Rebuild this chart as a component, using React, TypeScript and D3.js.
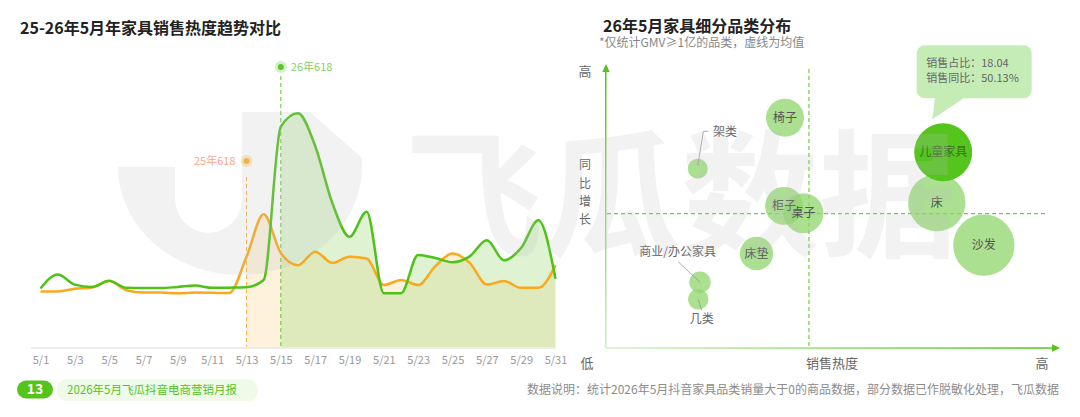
import { useEffect, useRef } from 'react';
import * as d3 from 'd3';

// 左圖：5月每日銷售熱度
const dayLabels = [
  '5/1', '5/2', '5/3', '5/4', '5/5', '5/6', '5/7', '5/8', '5/9', '5/10',
  '5/11', '5/12', '5/13', '5/14', '5/15', '5/16', '5/17', '5/18', '5/19', '5/20',
  '5/21', '5/22', '5/23', '5/24', '5/25', '5/26', '5/27', '5/28', '5/29', '5/30', '5/31',
];
const heat2026 = [
  25, 31, 26.7, 25.7, 28.4, 25.3, 25.2, 25.2, 25.7, 26.3,
  25.3, 25.4, 25.6, 28.7, 94.3, 100, 86, 61.6, 47.2, 57.9,
  23, 23, 39.4, 38.1, 36.3, 38.8, 45.7, 37.1, 42.4, 54.2, 29.2,
];
const heat2025 = [
  23.8, 23.8, 24.9, 25.5, 28.2, 24.3, 23.3, 23.3, 23, 23.3,
  23.2, 23.1, 38.6, 56.8, 40.2, 35, 40.8, 36, 38.6, 37.9,
  26.5, 28.7, 26.5, 34.6, 40, 36, 26.7, 28.2, 25.3, 25.3, 34.9,
];
const mark2026 = { day: '5/15', label: '26年618' };
const mark2025 = { day: '5/13', label: '25年618' };

// 右圖：品類分布
const categories = ['椅子', '架类', '儿童家具', '床', '柜子', '桌子', '床垫', '沙发', '商业/办公家具', '几类'];
const salesHeat = [39.6, 20.3, 74.6, 73.2, 39.4, 43.7, 33.3, 83.6, 20.8, 20.4];
const yoyGrowth = [67.1, 42.1, 50.13, 25.4, 23.8, 20.2, 0.4, 4.5, -13.7, -22.1];
const salesShare = [7.74, 2.14, 18.04, 17.66, 7.74, 8.57, 5.98, 20.2, 2.45, 2.27];
const avgHeat = 44.9;
const avgGrowth = 20;
const highlight = '儿童家具';

const FONT = '"Noto Sans CJK SC", "Noto Sans", sans-serif';

const App = () => {
  const svgRef = useRef<SVGSVGElement>(null);

  useEffect(() => {
    const svg = d3.select(svgRef.current);
    svg.selectAll('*').remove();
    svg.attr('width', 1080).attr('height', 417).style('font-family', FONT);
    const defs = svg.append('defs');

    // ===== 標題 =====
    svg.append('text').attr('x', 20).attr('y', 34)
      .style('font-size', '16px').style('font-weight', 'bold').attr('fill', '#222')
      .text('25-26年5月年家具销售热度趋势对比');
    svg.append('text').attr('x', 603).attr('y', 32)
      .style('font-size', '16px').style('font-weight', 'bold').attr('fill', '#222')
      .text('26年5月家具细分品类分布');
    svg.append('text').attr('x', 599).attr('y', 47)
      .style('font-size', '12px').attr('fill', '#888')
      .text('*仅统计GMV≥1亿的品类，虚线为均值');

    // ===== 左圖：趨勢 =====
    const x = d3.scaleLinear().domain([0, dayLabels.length - 1]).range([40.5, 555.5]);
    const y = d3.scaleLinear().domain([0, 100]).range([347, 113.3]);
    const left = svg.append('g');

    left.append('line')
      .attr('x1', 31).attr('x2', 556).attr('y1', 348).attr('y2', 348)
      .attr('stroke', '#e6e6e6').attr('stroke-width', 1.5);

    const xAxis = d3.axisBottom(x)
      .tickValues(dayLabels.map((_, i) => i).filter((i) => i % 2 === 0))
      .tickFormat((i) => dayLabels[i as number])
      .tickSize(0)
      .tickPadding(8);
    const axG = left.append('g').attr('transform', 'translate(0,348)').call(xAxis);
    axG.select('.domain').remove();
    axG.selectAll('text').attr('fill', '#999').style('font-size', '11px').style('font-family', FONT);

    const idx26 = dayLabels.indexOf(mark2026.day);
    const idx25 = dayLabels.indexOf(mark2025.day);

    const lineGen = d3.line<number>().x((_, i) => x(i)).y((d) => y(d)).curve(d3.curveMonotoneX);
    const areaGen = d3.area<number>().x((_, i) => x(i)).y0(y(0)).y1((d) => y(d)).curve(d3.curveMonotoneX);

    // 填色區域（從618起）
    defs.append('clipPath').attr('id', 'clip25').append('rect')
      .attr('x', x(idx25)).attr('y', 0).attr('width', 600).attr('height', 348);
    defs.append('clipPath').attr('id', 'clip26').append('rect')
      .attr('x', x(idx26)).attr('y', 0).attr('width', 600).attr('height', 348);

    left.append('path').datum(heat2025).attr('d', areaGen)
      .attr('clip-path', 'url(#clip25)')
      .attr('fill', 'rgb(250,200,110)').attr('fill-opacity', 0.23);
    left.append('path').datum(heat2026).attr('d', areaGen)
      .attr('clip-path', 'url(#clip26)')
      .attr('fill', 'rgb(148,215,108)').attr('fill-opacity', 0.3);

    // 618 標記
    left.append('line')
      .attr('x1', x(idx25)).attr('x2', x(idx25)).attr('y1', 177).attr('y2', 347)
      .attr('stroke', '#f9b441').attr('stroke-width', 1).attr('stroke-dasharray', '4,3');
    left.append('line')
      .attr('x1', x(idx26)).attr('x2', x(idx26)).attr('y1', 76).attr('y2', 347)
      .attr('stroke', '#5cc52c').attr('stroke-width', 1).attr('stroke-dasharray', '4,3');

    left.append('path').datum(heat2025).attr('d', lineGen)
      .attr('fill', 'none').attr('stroke', '#fba81c').attr('stroke-width', 2.5);
    left.append('path').datum(heat2026).attr('d', lineGen)
      .attr('fill', 'none').attr('stroke', '#4fc21a').attr('stroke-width', 2.5);

    left.append('circle').attr('cx', x(idx25)).attr('cy', 161).attr('r', 6)
      .attr('fill', '#f9b233').attr('opacity', 0.3);
    left.append('circle').attr('cx', x(idx25)).attr('cy', 161).attr('r', 3)
      .attr('fill', '#f9b233');
    left.append('text').attr('x', x(idx25) - 11).attr('y', 161).attr('dy', '0.35em')
      .attr('text-anchor', 'end').style('font-size', '11px').attr('fill', '#f7a88a')
      .text(mark2025.label);

    left.append('circle').attr('cx', x(idx26)).attr('cy', 67).attr('r', 6)
      .attr('fill', '#6fcc45').attr('opacity', 0.3);
    left.append('circle').attr('cx', x(idx26)).attr('cy', 67).attr('r', 3)
      .attr('fill', '#5cc52c');
    left.append('text').attr('x', x(idx26) + 10).attr('y', 67).attr('dy', '0.35em')
      .style('font-size', '11px').attr('fill', '#86cf66')
      .text(mark2026.label);

    // ===== 右圖：氣泡 =====
    const xs = d3.scaleLinear().domain([0, 100]).range([606, 1058]);
    const ys = d3.scaleLinear().domain([-46, 93]).range([348, 65]);
    const rs = d3.scaleSqrt().domain([0, 20]).range([0, 30.5]);
    const right = svg.append('g');

    const gy = defs.append('linearGradient').attr('id', 'gy')
      .attr('x1', 0).attr('y1', 1).attr('x2', 0).attr('y2', 0);
    gy.append('stop').attr('offset', '0%').attr('stop-color', '#cdeebe');
    gy.append('stop').attr('offset', '100%').attr('stop-color', '#52c41a');
    const gx = defs.append('linearGradient').attr('id', 'gx')
      .attr('x1', 0).attr('y1', 0).attr('x2', 1).attr('y2', 0);
    gx.append('stop').attr('offset', '0%').attr('stop-color', '#d6f1ca');
    gx.append('stop').attr('offset', '100%').attr('stop-color', '#52c41a');

    right.append('rect').attr('x', 605).attr('y', 71).attr('width', 1.5).attr('height', 277)
      .attr('fill', 'url(#gy)');
    right.append('path').attr('d', 'M606,64 L602.3,72 L609.7,72 Z').attr('fill', '#52c41a');
    right.append('rect').attr('x', 606).attr('y', 347.3).attr('width', 446).attr('height', 1.5)
      .attr('fill', 'url(#gx)');
    right.append('path').attr('d', 'M1060,348 L1052,344.3 L1052,351.7 Z').attr('fill', '#52c41a');

    // 均值虛線
    right.append('line')
      .attr('x1', xs(avgHeat)).attr('x2', xs(avgHeat)).attr('y1', 69).attr('y2', 347)
      .attr('stroke', '#6ccf43').attr('stroke-width', 1.2).attr('stroke-dasharray', '4,3');
    right.append('line')
      .attr('x1', 607).attr('x2', 1045).attr('y1', ys(avgGrowth)).attr('y2', ys(avgGrowth))
      .attr('stroke', '#6ccf43').attr('stroke-width', 1.2).attr('stroke-dasharray', '4,3');

    // 軸標籤
    const axisLabel = (t: string, lx: number, ly: number, size = 13) =>
      right.append('text').attr('x', lx).attr('y', ly).attr('dy', '0.35em')
        .attr('text-anchor', 'middle').style('font-size', `${size}px`).attr('fill', '#666').text(t);
    axisLabel('高', 585, 71);
    ['同', '比', '增', '长'].forEach((c, i) => axisLabel(c, 585, 165 + i * 18.3, 12));
    axisLabel('低', 587, 363);
    axisLabel('销售热度', 832, 363);
    axisLabel('高', 1042, 363);

    const bubbles = categories.map((name, i) => ({
      name,
      heat: salesHeat[i],
      growth: yoyGrowth[i],
      share: salesShare[i],
    }));
    const order = [...bubbles].sort((a, b) => (a.name === highlight ? 1 : 0) - (b.name === highlight ? 1 : 0));

    order.forEach((b) => {
      right.append('circle')
        .attr('cx', xs(b.heat)).attr('cy', ys(b.growth)).attr('r', rs(b.share))
        .attr('fill', b.name === highlight ? '#52c41a' : '#8ed66b')
        .attr('fill-opacity', b.name === highlight ? 0.98 : 0.75);
    });

    // 外部標籤（小氣泡）
    const outside: Record<string, { tx: number; ty: number; anchor: string; path: [number, number][] }> = {
      '架类': { tx: 713, ty: 131.7, anchor: 'start', path: [[0, -3], [5.6, -37.3], [10.6, -37.3]] },
      '商业/办公家具': { tx: 677.7, ty: 251.7, anchor: 'middle', path: [[0, 0], [-21.7, -20.3]] },
      '几类': { tx: 701.7, ty: 319, anchor: 'middle', path: [[0, 0], [3.4, 11]] },
    };

    order.forEach((b) => {
      const cx = xs(b.heat);
      const cy = ys(b.growth);
      const o = outside[b.name];
      if (o) {
        right.append('path')
          .attr('d', d3.line()(o.path.map(([dx, dy]) => [cx + dx, cy + dy])))
          .attr('fill', 'none').attr('stroke', '#999').attr('stroke-width', 0.8);
        right.append('text').attr('x', o.tx).attr('y', o.ty).attr('dy', '0.35em')
          .attr('text-anchor', o.anchor)
          .style('font-size', '12px').attr('fill', '#666').text(b.name);
      } else {
        right.append('text').attr('x', cx).attr('y', cy).attr('dy', '0.35em')
          .attr('text-anchor', 'middle').style('font-size', '12px')
          .attr('fill', b.name === highlight ? '#3f6f2a' : '#555').text(b.name);
      }
    });

    // 提示框
    const hb = bubbles.find((b) => b.name === highlight)!;
    const hx = xs(hb.heat);
    const hy = ys(hb.growth) - rs(hb.share);
    const tip = right.append('g');
    tip.append('rect').attr('x', hx - 26.5).attr('y', hy - 78).attr('width', 115).attr('height', 53)
      .attr('rx', 8).attr('fill', '#c6ecb5');
    tip.append('path')
      .attr('d', `M${hx - 8},${hy - 26} L${hx + 22},${hy - 26} L${hx - 11},${hy - 4} Z`)
      .attr('fill', '#c6ecb5');
    tip.append('text').attr('x', hx - 17).attr('y', hy - 60).attr('dy', '0.35em')
      .style('font-size', '11px').attr('fill', '#666')
      .text(`销售占比：${hb.share.toFixed(2)}`);
    tip.append('text').attr('x', hx - 17).attr('y', hy - 45).attr('dy', '0.35em')
      .style('font-size', '11px').attr('fill', '#666')
      .text(`销售同比：${hb.growth.toFixed(2)}%`);

    // ===== 浮水印 =====
    const wm = svg.append('g').attr('pointer-events', 'none');
    wm.append('path')
      .attr('d',
        'M118,167 A122,108 0 0 0 362,167 L362,158 L310,112 L242,112 L242,167 Z ' +
        'M175,167 L175,198 A33.5,35 0 0 0 242,198 L242,167 Z')
      .attr('fill-rule', 'evenodd')
      .attr('fill', '#bdbdbd').attr('fill-opacity', 0.2);
    wm.append('text').attr('x', 405).attr('y', 246)
      .style('font-size', '138px').style('font-weight', 'bold')
      .attr('fill', '#bdbdbd').attr('fill-opacity', 0.2)
      .text('飞瓜数据');

    // ===== 頁腳 =====
    svg.append('rect').attr('x', 17).attr('y', 380.5).attr('width', 36).attr('height', 18)
      .attr('rx', 9).attr('fill', '#52c41a');
    svg.append('text').attr('x', 35).attr('y', 389.5).attr('dy', '0.35em')
      .attr('text-anchor', 'middle').style('font-size', '14px').style('font-weight', 'bold')
      .attr('fill', '#fff').text('13');
    svg.append('rect').attr('x', 57).attr('y', 379).attr('width', 201).attr('height', 22)
      .attr('rx', 11).attr('fill', '#effbe8');
    svg.append('text').attr('x', 67).attr('y', 390).attr('dy', '0.35em')
      .style('font-size', '11.5px').attr('fill', '#52c41a')
      .text('2026年5月飞瓜抖音电商营销月报');
    svg.append('text').attr('x', 1059).attr('y', 390).attr('dy', '0.35em')
      .attr('text-anchor', 'end').style('font-size', '12px').attr('fill', '#8c8c8c')
      .text('数据说明：统计2026年5月抖音家具品类销量大于0的商品数据，部分数据已作脱敏化处理，飞瓜数据');
  }, []);

  return (
    <div style={{ position: 'absolute', left: 0, top: 0, width: 1080, height: 417, background: '#fff' }}>
      <svg ref={svgRef} width={1080} height={417} style={{ display: 'block' }} />
    </div>
  );
};

export default App;
